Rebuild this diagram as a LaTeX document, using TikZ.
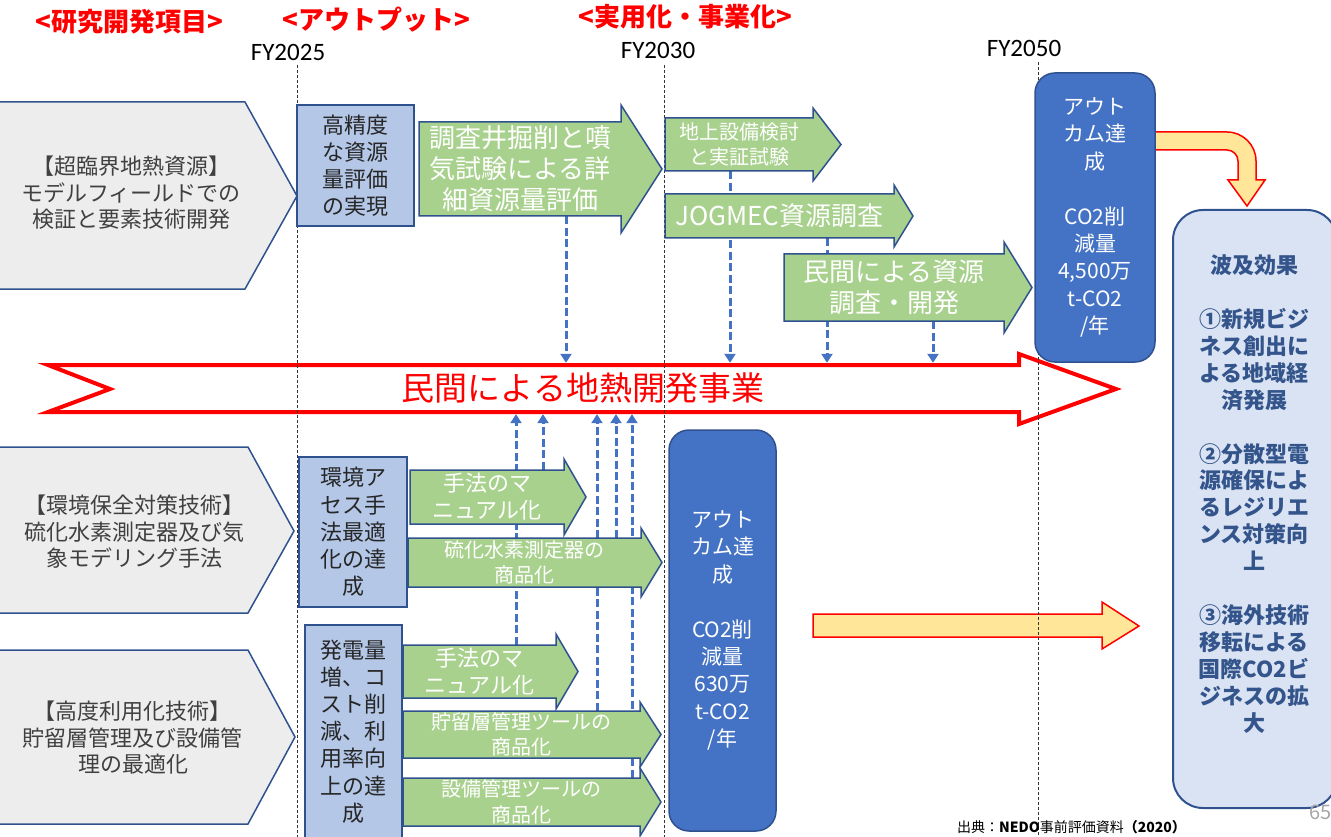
\documentclass[tikz,border=0pt]{standalone}
\usepackage{fontspec}
\setmainfont{Noto Sans CJK JP}
\newfontfamily\yearfont{Carlito}
\usetikzlibrary{arrows.meta,backgrounds}

\definecolor{laneGray}{HTML}{EDEDED}
\definecolor{edgeBlue}{HTML}{2F528F}
\definecolor{paleBlue}{HTML}{B4C7E7}
\definecolor{leafGreen}{HTML}{A9D18E}
\definecolor{deepBlue}{HTML}{4472C4}
\definecolor{mistBlue}{HTML}{DAE3F3}
\definecolor{inkBlue}{HTML}{34558B}
\definecolor{sunYellow}{HTML}{FFE699}
\definecolor{darkText}{HTML}{404040}

\tikzset{
	lane/.style={fill=laneGray, draw=edgeBlue, line width=1.5},
	lanetext/.style={text=darkText, align=center, font=\fontsize{22}{26.5}\selectfont},
	outbox/.style={fill=paleBlue, draw=edgeBlue, line width=1.5, inner sep=0, align=center, text=black!85, font=\fontsize{22}{27.2}\selectfont},
	leaf/.style={fill=leafGreen, draw=edgeBlue, line width=1.5},
	leaftext/.style={inner sep=0, align=center, text=white},
	leafbig/.style={leaftext, font=\fontsize{26}{31}\selectfont},
	leafmid/.style={leaftext, font=\fontsize{22}{27}\selectfont},
	leafsmall/.style={leaftext, font=\fontsize{20}{25.5}\selectfont},
	goal/.style={fill=deepBlue, draw=edgeBlue, line width=1.5, rounded corners=20, inner sep=0, align=center, text=white, font=\fontsize{21}{27.4}\selectfont},
	sunarrow/.style={fill=sunYellow, draw=red, line width=1.5},
	yearline/.style={draw=black!80, line width=0.8, dash pattern=on 3pt off 2pt},
	feed/.style={draw=deepBlue, line width=3, dash pattern=on 8pt off 3.5pt, -{Triangle[width=11pt,length=9pt]}, shorten >=2pt},
	heading/.style={text=red, font=\bfseries\fontsize{26}{30}\selectfont},
	yearlabel/.style={font=\yearfont\fontsize{25}{30}\selectfont}
}

\newcommand{\leafarrow}[9]{%
	\draw[leaf] (#2,#4) -- (#3,#4) -- (#3,#4-#6) -- (#7,{(#4+#5)/2}) -- (#3,#5+#6) -- (#3,#5) -- (#2,#5) -- cycle;
	\node[#8, minimum width=#3-#2, minimum height=#5-#4] (#1) at ({(#2+#3)/2},{(#4+#5)/2}) {#9};
}

\begin{document}
\begin{tikzpicture}[x=1pt,y=-1pt]
	\useasboundingbox (0,0) rectangle (1331,837);

	\draw[draw=red, fill=white, line width=4] (48,365) -- (1019,365) -- (1019,354) -- (1116,389) -- (1019,424) -- (1019,412) -- (48,412) -- (110,389) -- cycle;
	\node[text=red, font=\fontsize{33}{36}\selectfont, minimum width=900, minimum height=47, inner sep=0] (biz) at (583,388.5) {民間による地熱開発事業};

	\draw[sunarrow] (1155,132) -- (1227,132) .. controls (1243,132) and (1256,145) .. (1256,161) -- (1256,180) -- (1265,180) -- (1247,206) -- (1228,180) -- (1238,180) -- (1238,161) .. controls (1238,155) and (1233,150) .. (1227,150) -- (1155,150) -- cycle;
	\draw[sunarrow] (813,614) -- (1102,614) -- (1102,602) -- (1139,626) -- (1102,649) -- (1102,637) -- (813,637) -- cycle;

	\draw[yearline] (297,65) -- (297,837);
	\draw[yearline] (664,65) -- (664,837);
	\draw[yearline] (1038,62) -- (1038,837);

	\draw[lane] (-5,102) -- (245,102) -- (297,196) -- (245,289) -- (-5,289) -- cycle;
	\node[lanetext] (scr) at (131,193) {【超臨界地熱資源】\\モデルフィールドでの\\検証と要素技術開発};
	\draw[lane] (-5,447) -- (248,447) -- (294,531) -- (248,613) -- (-5,613) -- cycle;
	\node[lanetext] (env) at (134,532) {【環境保全対策技術】\\硫化水素測定器及び気\\象モデリング手法};
	\draw[lane] (-5,650) -- (248,650) -- (295,737) -- (248,824) -- (-5,824) -- cycle;
	\node[lanetext] (adv) at (133,738) {【高度利用化技術】\\貯留層管理及び設備管\\理の最適化};

	\node[outbox, minimum width=117, minimum height=121] (acc) at (355.5,165.5) {高精度\\な資源\\量評価\\の実現};
	\node[outbox, minimum width=108, minimum height=150] (assess) at (353,532) {環境ア\\セス手\\法最適\\化の達\\成};
	\node[outbox, minimum width=97, minimum height=213] (yield) at (353.5,731.5) {発電量\\増、コ\\スト削\\減、利\\用率向\\上の達\\成};

	\leafarrow{survey}{419}{621}{122}{216}{17}{662}{leafbig}{調査井掘削と噴\\気試験による詳\\細資源量評価}
	\leafarrow{field}{665}{813}{118}{171}{10}{841}{leafsmall}{地上設備検討\\と実証試験}
	\leafarrow{jogmec}{665}{894}{194}{238}{9}{913}{leafbig}{JOGMEC資源調査}
	\leafarrow{privdev}{784}{1004}{254}{321}{12}{1032}{leafbig}{民間による資源\\調査・開発}
	\leafarrow{manualA}{410}{564}{470}{524}{11}{586}{leafmid}{手法のマ\\ニュアル化}
	\leafarrow{hsensor}{408}{641}{538}{587}{10}{662}{leafsmall}{硫化水素測定器の\\商品化}
	\leafarrow{manualB}{403}{556}{645}{698}{11}{578}{leafmid}{手法のマ\\ニュアル化}
	\leafarrow{reservoir}{403}{640}{711}{758}{9}{661}{leafsmall}{貯留層管理ツールの\\商品化}
	\leafarrow{equip}{403}{640}{778}{826}{10}{661}{leafsmall}{設備管理ツールの\\商品化}

	\node[goal, minimum width=120, minimum height=289] (goalA) at (1095,217.5) {アウト\\カム達\\成\\[27.4pt]CO2削\\減量\\4,500万\\t-CO2\\/年};
	\node[goal, minimum width=107, minimum height=401] (goalB) at (722.5,630.5) {アウト\\カム達\\成\\[27.4pt]CO2削\\減量\\630万\\t-CO2\\/年};

	\draw[fill=mistBlue, draw=edgeBlue, line width=2, rounded corners=30] (1173,210) rectangle (1337,808);
	\node[text=inkBlue, align=center, font=\bfseries\fontsize{22}{26.9}\selectfont] (impact) at (1254,494) {波及効果\\[26.9pt]①新規ビジ\\ネス創出に\\よる地域経\\済発展\\[26.9pt]②分散型電\\源確保によ\\るレジリエ\\ンス対策向\\上\\[26.9pt]③海外技術\\移転による\\国際CO2ビ\\ジネスの拡\\大};

	\begin{scope}[on background layer]
		\foreach \src/\x in {survey/566, field/730, jogmec/827, privdev/933}
			\draw[feed] (\src.south -| \x,0) -- (biz.north -| \x,0);
		\foreach \src/\x in {manualB/516, manualA/543, reservoir/597, hsensor/616, equip/632}
			\draw[feed] (\src.north -| \x,0) -- (biz.south -| \x,0);
	\end{scope}

	\node[heading] (hitem) at (129.5,22) {<研究開発項目>};
	\node[heading] (hout) at (376.5,20) {<アウトプット>};
	\node[heading] (hbiz) at (685,17) {<実用化・事業化>};

	\node[yearlabel] (fy25) at (288,52) {FY2025};
	\node[yearlabel] (fy30) at (658,50) {FY2030};
	\node[yearlabel] (fy50) at (1024,48) {FY2050};

	\node[font=\fontsize{14}{16}\selectfont] (src) at (1071.5,827) {出典：\textbf{NEDO}事前評価資料\textbf{（2020）}};
	\node[text=black!35, font=\fontsize{20}{22}\selectfont, anchor=west, inner sep=0] (pg) at (1309,812) {65};
\end{tikzpicture}
\end{document}
